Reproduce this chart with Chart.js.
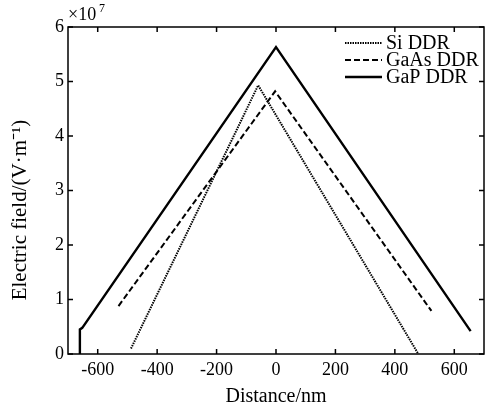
<!DOCTYPE html>
<html>
<head>
<meta charset="utf-8">
<script src="https://cdn.jsdelivr.net/npm/chart.js@4"></script>
<style>
  body { margin: 0; background: #fff; }
  #wrap { width: 485px; height: 409px; }
</style>
</head>
<body>
<div id="wrap"><canvas id="myChart"></canvas></div>
<script>
// distance in nm, field in units of 1e7 V/m
const siX = [-488, -60, 479];
const siField = [0.1, 4.93, 0];
const gaasX = [-530, -3, 523];
const gaasField = [0.88, 4.82, 0.79];
const gapX = [-660, -660, -652, 0, 655];
const gapField = [0, 0.45, 0.48, 5.63, 0.42];

const xTicks = [-600, -400, -200, 0, 200, 400, 600];
const yTicks = [0, 1, 2, 3, 4, 5, 6];
const seriesNames = ['Si DDR', 'GaAs DDR', 'GaP DDR'];
const yTitle = 'Electric field/(V\u00b7m\u207b\u00b9)';

const serif = 'Liberation Serif';

function pts(xs, ys) {
  return xs.map((x, i) => ({ x: x, y: ys[i] }));
}

const ctx = document.getElementById('myChart').getContext('2d');

const data = {
  datasets: [{
    label: seriesNames[0],
    data: pts(siX, siField),
    borderColor: '#000',
    borderWidth: 2,
    borderDash: [1.5, 1],
    showLine: true,
    pointRadius: 0
  }, {
    label: seriesNames[1],
    data: pts(gaasX, gaasField),
    borderColor: '#000',
    borderWidth: 2,
    borderDash: [6, 3],
    showLine: true,
    pointRadius: 0
  }, {
    label: seriesNames[2],
    data: pts(gapX, gapField),
    borderColor: '#000',
    borderWidth: 2.4,
    showLine: true,
    pointRadius: 0
  }]
};

// box, inward ticks, legend, y title and the x10^7 note
const framePlugin = {
  id: 'frame',
  afterDatasetsDraw(chart) {
    const c = chart.ctx;
    const a = chart.chartArea;
    const xs = chart.scales.x;
    const ys = chart.scales.y;
    c.save();
    c.strokeStyle = '#000';
    c.lineWidth = 1.5;
    c.setLineDash([]);
    c.strokeRect(a.left, a.top, a.right - a.left, a.bottom - a.top);
    c.beginPath();
    xTicks.forEach(v => {
      const px = xs.getPixelForValue(v);
      c.moveTo(px, a.bottom); c.lineTo(px, a.bottom - 5);
      c.moveTo(px, a.top); c.lineTo(px, a.top + 5);
    });
    yTicks.forEach(v => {
      const py = ys.getPixelForValue(v);
      c.moveTo(a.left, py); c.lineTo(a.left + 5, py);
      c.moveTo(a.right, py); c.lineTo(a.right - 5, py);
    });
    c.stroke();

    // legend
    c.font = '20px "' + serif + '"';
    c.fillStyle = '#000';
    c.textBaseline = 'middle';
    chart.data.datasets.forEach((ds, i) => {
      const y = 43 + i * 17;
      c.beginPath();
      c.lineWidth = ds.borderWidth;
      c.setLineDash(ds.borderDash || []);
      c.moveTo(345, y);
      c.lineTo(382, y);
      c.stroke();
      c.fillText(ds.label, 386, y + 1);
    });
    c.setLineDash([]);

    // y axis title
    c.save();
    c.translate(20, 210);
    c.rotate(-Math.PI / 2);
    c.textAlign = 'center';
    c.font = '21px "' + serif + '"';
    c.fillText(yTitle, 0, 0);
    c.restore();

    c.textBaseline = 'alphabetic';
    c.font = '18px "' + serif + '"';
    c.fillText('\u00d710', 68, 20);
    c.font = '12px "' + serif + '"';
    c.fillText('7', 99, 12);
    c.restore();
  }
};

const tickFont = { family: serif, size: 18 };
const titleFont = { family: serif, size: 20 };

const config = {
  type: 'scatter',
  data: data,
  options: {
    responsive: true,
    maintainAspectRatio: false,
    animation: false,
    layout: { padding: { top: 27, right: 1, left: 0, bottom: 0 } },
    scales: {
      x: {
        type: 'linear',
        min: -700,
        max: 700,
        afterBuildTicks: s => { s.ticks = xTicks.map(v => ({ value: v })); },
        afterFit: s => { s.height = 55; },
        grid: { display: false, drawTicks: false },
        border: { display: false },
        ticks: { color: '#000', font: tickFont, padding: 5 },
        title: { display: true, text: 'Distance/nm', color: '#000', font: titleFont, padding: { top: 0, bottom: 0 } }
      },
      y: {
        type: 'linear',
        min: 0,
        max: 6,
        afterBuildTicks: s => { s.ticks = yTicks.map(v => ({ value: v })); },
        afterFit: s => { s.width = 68; },
        grid: { display: false, drawTicks: false },
        border: { display: false },
        ticks: { color: '#000', font: tickFont, padding: 4 }
      }
    },
    plugins: {
      legend: { display: false },
      tooltip: { enabled: false }
    }
  },
  plugins: [framePlugin]
};

const myChart = new Chart(ctx, config);
</script>
</body>
</html>
